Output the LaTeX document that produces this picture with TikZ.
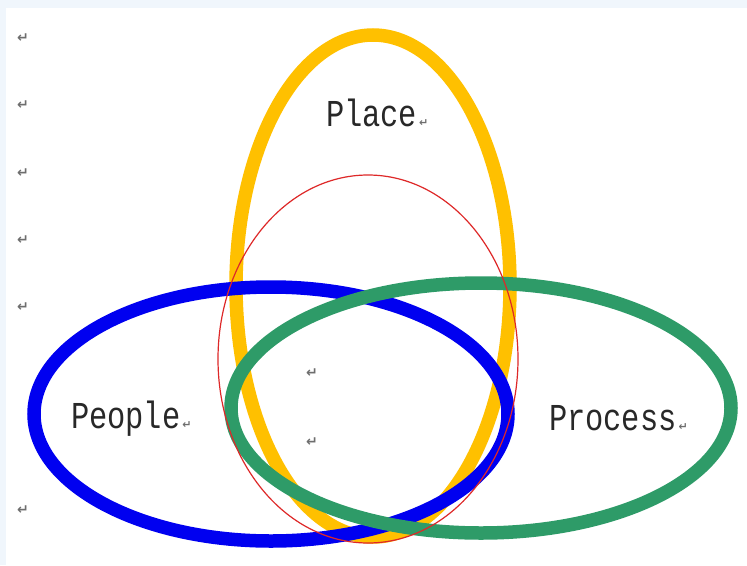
\documentclass[tikz,border=0pt]{standalone}
\usepackage{xcolor}
\usepackage{fontspec}
\usepackage{tikz}
\usetikzlibrary{positioning}
\newfontfamily\wordfont[FakeStretch=0.8]{Liberation Mono}
\newfontfamily\markfont{DejaVu Sans}
\definecolor{ringyellow}{RGB}{255,192,0}
\definecolor{ringblue}{RGB}{0,0,240}
\definecolor{ringgreen}{RGB}{46,155,104}
\definecolor{ringred}{RGB}{222,40,40}
\definecolor{pageedge}{RGB}{240,246,252}
\definecolor{inktext}{RGB}{40,40,40}
\definecolor{inkmark}{RGB}{110,110,110}

\begin{document}
\begin{tikzpicture}[x=1pt,y=-1pt,
  vennring/.style={draw=#1,fill=none,line width=13.5pt},
  wordlabel/.style={inner sep=0pt,outer sep=0pt,anchor=base west,text=inktext,font=\wordfont\fontsize{38}{45.6}\selectfont},
  retmark/.style={inner sep=0pt,outer sep=0pt,text=inkmark,font=\markfont\bfseries\fontsize{14}{16.8}\selectfont},
  tailmark/.style={retmark,anchor=base west,font=\markfont\bfseries\fontsize{11}{13.2}\selectfont}]
\path[use as bounding box] (0,0) rectangle (747,565);
\path[fill=pageedge,draw=none] (0,0) rectangle (747,565);
\path[fill=white,draw=none] (6,8) rectangle (747,565);
% ring centres
\coordinate (placec) at (373,286);
\coordinate (peoplec) at (271,414);
\coordinate (processc) at (481,408);
\coordinate (corec) at (368,359);
% rings
\draw[vennring=ringyellow] (placec) ellipse [x radius=137, y radius=251];
\draw[vennring=ringblue] (peoplec) ellipse [x radius=237, y radius=127];
\draw[vennring=ringgreen] (processc) ellipse [x radius=250, y radius=125];
\draw[draw=ringred,line width=1.2pt] (corec) ellipse [x radius=150, y radius=184];
% words
\node[wordlabel] (place) at (326,126) {Place};
\node[tailmark] (placemark) at ([xshift=2pt]place.base east) {↵};
\node[wordlabel] (people) at (71,428) {People};
\node[tailmark] (peoplemark) at ([xshift=2pt]people.base east) {↵};
\node[wordlabel] (process) at (549,430) {Process};
\node[tailmark] (processmark) at ([xshift=2pt]process.base east) {↵};
% paragraph marks
\node[retmark] (mark1) at (23,38) {↵};
\node[retmark] (mark2) at (23,105) {↵};
\node[retmark] (mark3) at (23,173) {↵};
\node[retmark] (mark4) at (23,240) {↵};
\node[retmark] (mark5) at (23,307) {↵};
\node[retmark] (mark6) at (23,510) {↵};
\node[retmark] (mark7) at (312,373) {↵};
\node[retmark] (mark8) at (312,442) {↵};
\end{tikzpicture}
\end{document}
